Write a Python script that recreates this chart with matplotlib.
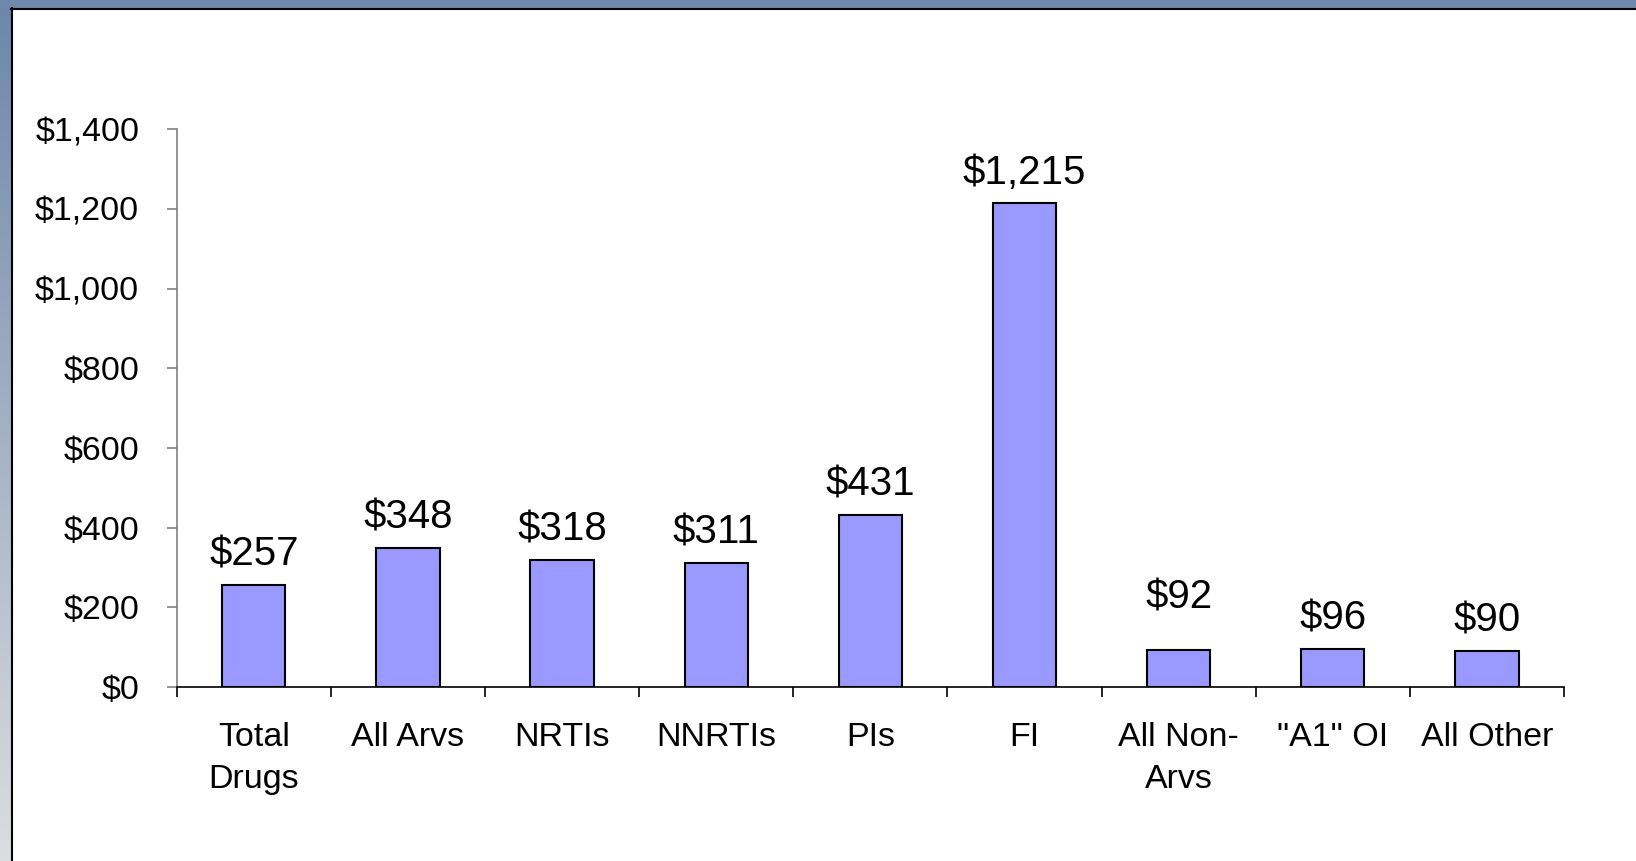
import numpy as np
import matplotlib
matplotlib.use("Agg")
import matplotlib.pyplot as plt
from matplotlib.patches import Rectangle

plt.rcParams['font.family'] = ['Liberation Sans', 'DejaVu Sans']

# Data
categories = ['Total\nDrugs', 'All Arvs', 'NRTIs', 'NNRTIs', 'PIs', 'FI',
              'All Non-\nArvs', '"A1" OI', 'All Other']
costs = [257, 348, 318, 311, 431, 1215, 92, 96, 90]
yticks = [0, 200, 400, 600, 800, 1000, 1200, 1400]

# extra lift (points) for labels that sit higher in the original
label_lift = {'All Non-\nArvs': 16}

W, H = 1636, 861
fig = plt.figure(figsize=(W / 100, H / 100), dpi=100)

# slide-style frame: gradient strip on the left, blue strip on top
bg = fig.add_axes([0, 0, 1, 1], zorder=-1)
bg.set_xlim(0, W)
bg.set_ylim(H, 0)
bg.axis('off')
top_c = np.array([0x6c, 0x86, 0xaa]) / 255
bot_c = np.array([0xdc, 0xdd, 0xdf]) / 255
t = np.linspace(0, 1, 256)[:, None]
grad = (top_c * (1 - t) + bot_c * t)[:, None, :]
bg.imshow(grad, extent=[0, 11, H, 0], aspect='auto', interpolation='bilinear')
bg.add_patch(Rectangle((0, 0), W, 8, color='#6f89ad', lw=0))
bg.plot([11.5, 11.5], [8, H], color='black', lw=1.5)
bg.plot([11, W], [8.5, 8.5], color='black', lw=1.5)

ax = fig.add_axes([176.7 / W, 1 - 687 / H, (1564 - 176.7) / W, (687 - 129.3) / H])
x = np.arange(len(categories))
bars = ax.bar(x, costs, width=0.41, color='#9999ff', edgecolor='black', linewidth=1.5)

for xi, v, cat in zip(x, costs, categories):
    ax.annotate(f'${v:,}', (xi, v), xytext=(0, 14 + label_lift.get(cat, 0)),
                textcoords='offset points', ha='center', va='baseline', fontsize=29)

ax.set_xlim(-0.5, len(categories) - 0.5)
ax.set_ylim(0, 1400)
ax.set_yticks(yticks)
ax.set_yticklabels([f'${v:,}' for v in yticks])
ax.tick_params(axis='y', direction='out', length=7, width=1.2, color='#808080',
               pad=20, labelsize=24.5)

ax.set_xticks(np.arange(len(categories) + 1) - 0.5)
ax.set_xticklabels([])
ax.set_xticks(x, minor=True)
ax.set_xticklabels(categories, minor=True, fontsize=24.5, linespacing=1.45)
ax.tick_params(axis='x', which='major', direction='out', length=7, width=1.2, color='black')
ax.tick_params(axis='x', which='minor', length=0, pad=25.5)

for s in ['top', 'right']:
    ax.spines[s].set_visible(False)
ax.spines['left'].set_color('#808080')
ax.spines['left'].set_linewidth(1.2)
ax.spines['bottom'].set_color('black')
ax.spines['bottom'].set_linewidth(1.2)

fig.savefig('out.png', dpi=100)
